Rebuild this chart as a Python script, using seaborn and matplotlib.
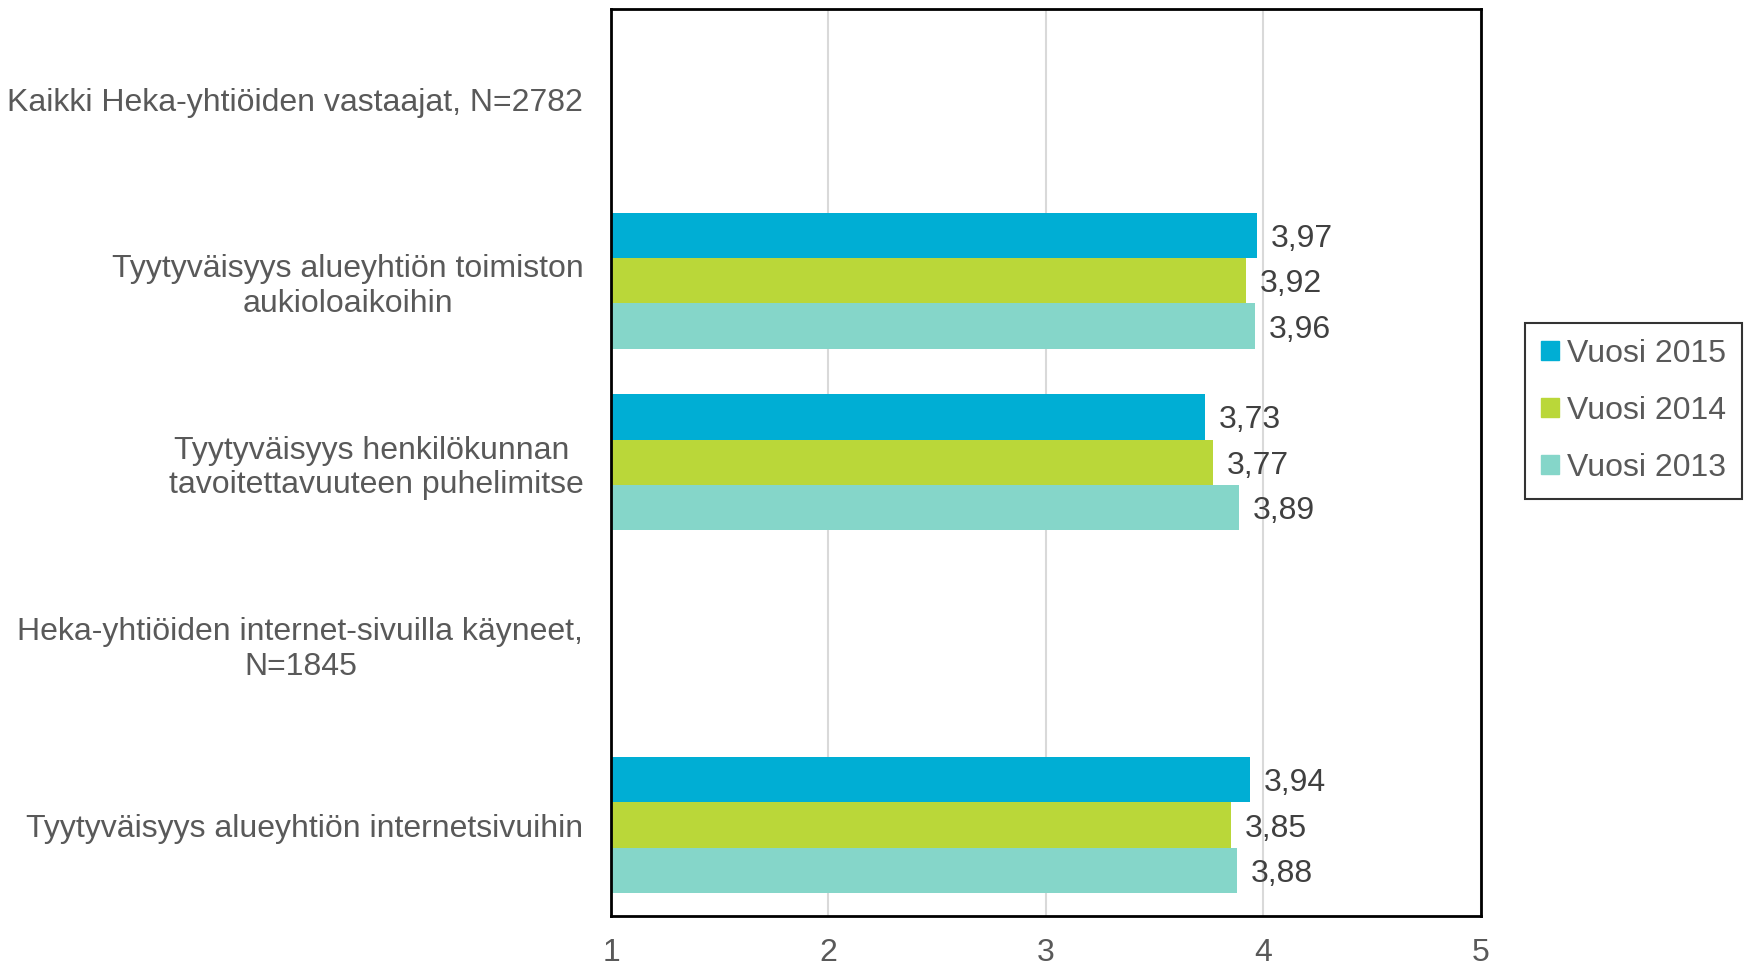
import matplotlib
matplotlib.use("Agg")
import matplotlib.pyplot as plt
import seaborn as sns
import pandas as pd

# Kategoriat (ylhäältä alas), kaksi otsikkoriviä ilman palkkeja
categories = [
    "Kaikki Heka-yhtiöiden vastaajat, N=2782",
    "Tyytyväisyys alueyhtiön toimiston\naukioloaikoihin",
    "Tyytyväisyys henkilökunnan \ntavoitettavuuteen puhelimitse",
    "Heka-yhtiöiden internet-sivuilla käyneet,\nN=1845",
    "Tyytyväisyys alueyhtiön internetsivuihin",
]
rated = [categories[1], categories[2], categories[4]]
years = ["Vuosi 2015", "Vuosi 2014", "Vuosi 2013"]
vals_2015 = [3.97, 3.73, 3.94]
vals_2014 = [3.92, 3.77, 3.85]
vals_2013 = [3.96, 3.89, 3.88]
colors = ["#00AED4", "#BAD739", "#85D6C9"]

df = pd.DataFrame({
    "kategoria": rated * 3,
    "vuosi": [years[0]] * 3 + [years[1]] * 3 + [years[2]] * 3,
    "arvo": vals_2015 + vals_2014 + vals_2013,
})

sns.set_theme(style="white")
plt.rcParams["font.family"] = ["Liberation Sans", "DejaVu Sans"]

TEXT = "#595959"
FS = 23

fig = plt.figure(figsize=(17.46, 9.66), dpi=100)
ax = fig.add_axes([0.350, 0.052, 0.498, 0.939])

sns.barplot(data=df, y="kategoria", x="arvo", hue="vuosi", order=categories,
            hue_order=years, palette=colors, saturation=1, width=0.75,
            orient="h", errorbar=None, linewidth=0, ax=ax)

ax.set_xlim(1, 5)
ax.set_xticks([1, 2, 3, 4, 5])
ax.set_xlabel("")
ax.set_ylabel("")
ax.set_axisbelow(True)
ax.xaxis.grid(True, color="#D9D9D9", linewidth=1.5)
ax.yaxis.grid(False)
for sp in ax.spines.values():
    sp.set_color("black")
    sp.set_linewidth(2)

ax.tick_params(axis="x", length=0, pad=16, labelsize=FS, labelcolor=TEXT)
ax.tick_params(axis="y", length=0, pad=20, labelsize=FS, labelcolor=TEXT)
for lab in ax.get_yticklabels():
    lab.set_multialignment("center")

for cont in ax.containers:
    labels = [f"{v:.2f}".replace(".", ",") for v in cont.datavalues]
    texts = ax.bar_label(cont, labels=labels, padding=10, fontsize=FS, color="#404040")
    for t in texts:
        t.set_va("center_baseline")

ax.legend_.remove()
handles = [plt.Rectangle((0, 0), 1, 1, color=c) for c in colors]
leg = fig.legend(handles, years, loc="upper left", bbox_to_anchor=(0.8735, 0.666),
                 frameon=True, fancybox=False, fontsize=FS, labelcolor=TEXT,
                 handlelength=0.55, handleheight=0.55, handletextpad=0.25,
                 labelspacing=0.85, borderpad=0.5, borderaxespad=0)
leg.get_frame().set_edgecolor("black")
leg.get_frame().set_linewidth(1.5)

fig.savefig("out.png", dpi=100)
